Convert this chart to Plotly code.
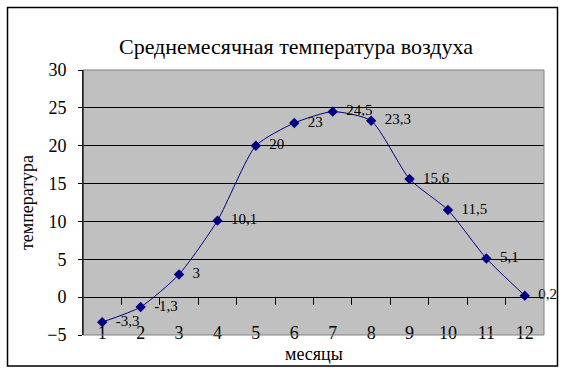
import plotly.graph_objects as go

months = list(range(1, 13))
temps = [-3.3, -1.3, 3, 10.1, 20, 23, 24.5, 23.3, 15.6, 11.5, 5.1, 0.2]
labels = ["-3,3", "-1,3", "3", "10,1", "20", "23", "24,5", "23,3", "15.6", "11,5", "5,1", "0,2"]
month_labels = [str(m) for m in months]
title_text = "Среднемесячная температура воздуха"
x_title = "месяцы"
y_title = "температура"

W, H = 566, 374
ML, MR, MT, MB = 83, 22, 70, 39
pw, ph = W - ML - MR, H - MT - MB

def px_x(p):
    return (p - ML) / pw

def px_y(p):
    return (H - MB - p) / ph

FONT = "'Liberation Serif', 'Times New Roman', 'DejaVu Serif', serif"

fig = go.Figure()
fig.add_trace(go.Scatter(
    x=months, y=temps, mode="lines+markers+text",
    line=dict(color="#000080", width=1, shape="spline", smoothing=0.6),
    marker=dict(symbol="diamond", size=8, color="#000080"),
    text=["  " + t for t in labels], textposition="middle right",
    textfont=dict(family=FONT, size=15, color="black"),
    cliponaxis=False, hoverinfo="skip", showlegend=False,
))
# invisible helper trace for the category label axis
fig.add_trace(go.Scatter(
    x=months, y=temps, xaxis="x2", mode="markers",
    marker=dict(opacity=0), hoverinfo="skip", showlegend=False,
))

fig.update_layout(
    width=W, height=H,
    margin=dict(l=ML, r=MR, t=MT, b=MB, autoexpand=False),
    paper_bgcolor="white", plot_bgcolor="#C0C0C0",
    title=dict(text=title_text, x=296 / W, xanchor="center", xref="container",
               y=1 - 46 / H, yanchor="middle", yref="container",
               font=dict(family=FONT, size=22, color="black")),
    xaxis=dict(range=[0.5, 12.5], anchor="free", position=5 / 35, automargin=False,
               showline=True, linecolor="black", linewidth=1,
               ticks="outside", ticklen=7, tickcolor="black",
               tickvals=[m + 0.5 for m in months[:-1]],
               showticklabels=False, showgrid=False, zeroline=False),
    xaxis2=dict(range=[0.5, 12.5], overlaying="x", anchor="free", position=0.055,
                side="bottom", showline=False, ticks="", automargin=False,
                tickvals=months, ticktext=month_labels,
                tickfont=dict(family=FONT, size=18, color="black"),
                showgrid=False, zeroline=False),
    yaxis=dict(range=[-5, 30], dtick=5, showgrid=True, gridcolor="black", gridwidth=1,
               zeroline=True, zerolinecolor="black", zerolinewidth=1, automargin=False,
               showline=True, linecolor="black", linewidth=1,
               ticks="outside", ticklen=4, tickcolor="black", ticklabelstandoff=8,
               tickfont=dict(family=FONT, size=18, color="black"),
               title=dict(text=y_title, font=dict(family=FONT, size=18, color="black"), standoff=8)),
    annotations=[dict(text=x_title, xref="paper", yref="paper", x=0.5, y=px_y(354),
                      xanchor="center", yanchor="middle", showarrow=False,
                      font=dict(family=FONT, size=18, color="black"))],
)

# gray plot-area border
fig.add_shape(type="rect", xref="x domain", yref="y domain", x0=0, x1=1, y0=0, y1=1,
              line=dict(color="#808080", width=1), layer="above")
fig.add_shape(type="line", xref="x domain", yref="y domain", x0=0, x1=0, y0=0, y1=1,
              line=dict(color="black", width=1), layer="above")
# outer chart border
fig.add_shape(type="rect", xref="paper", yref="paper",
              x0=px_x(7.5), x1=px_x(557.5), y0=px_y(366), y1=px_y(7.5),
              line=dict(color="black", width=1.5), layer="above")

fig.write_html("out.html", config={"displayModeBar": False},
               post_script="document.body.style.margin='0';document.body.style.padding='0';document.body.style.overflow='hidden';")
